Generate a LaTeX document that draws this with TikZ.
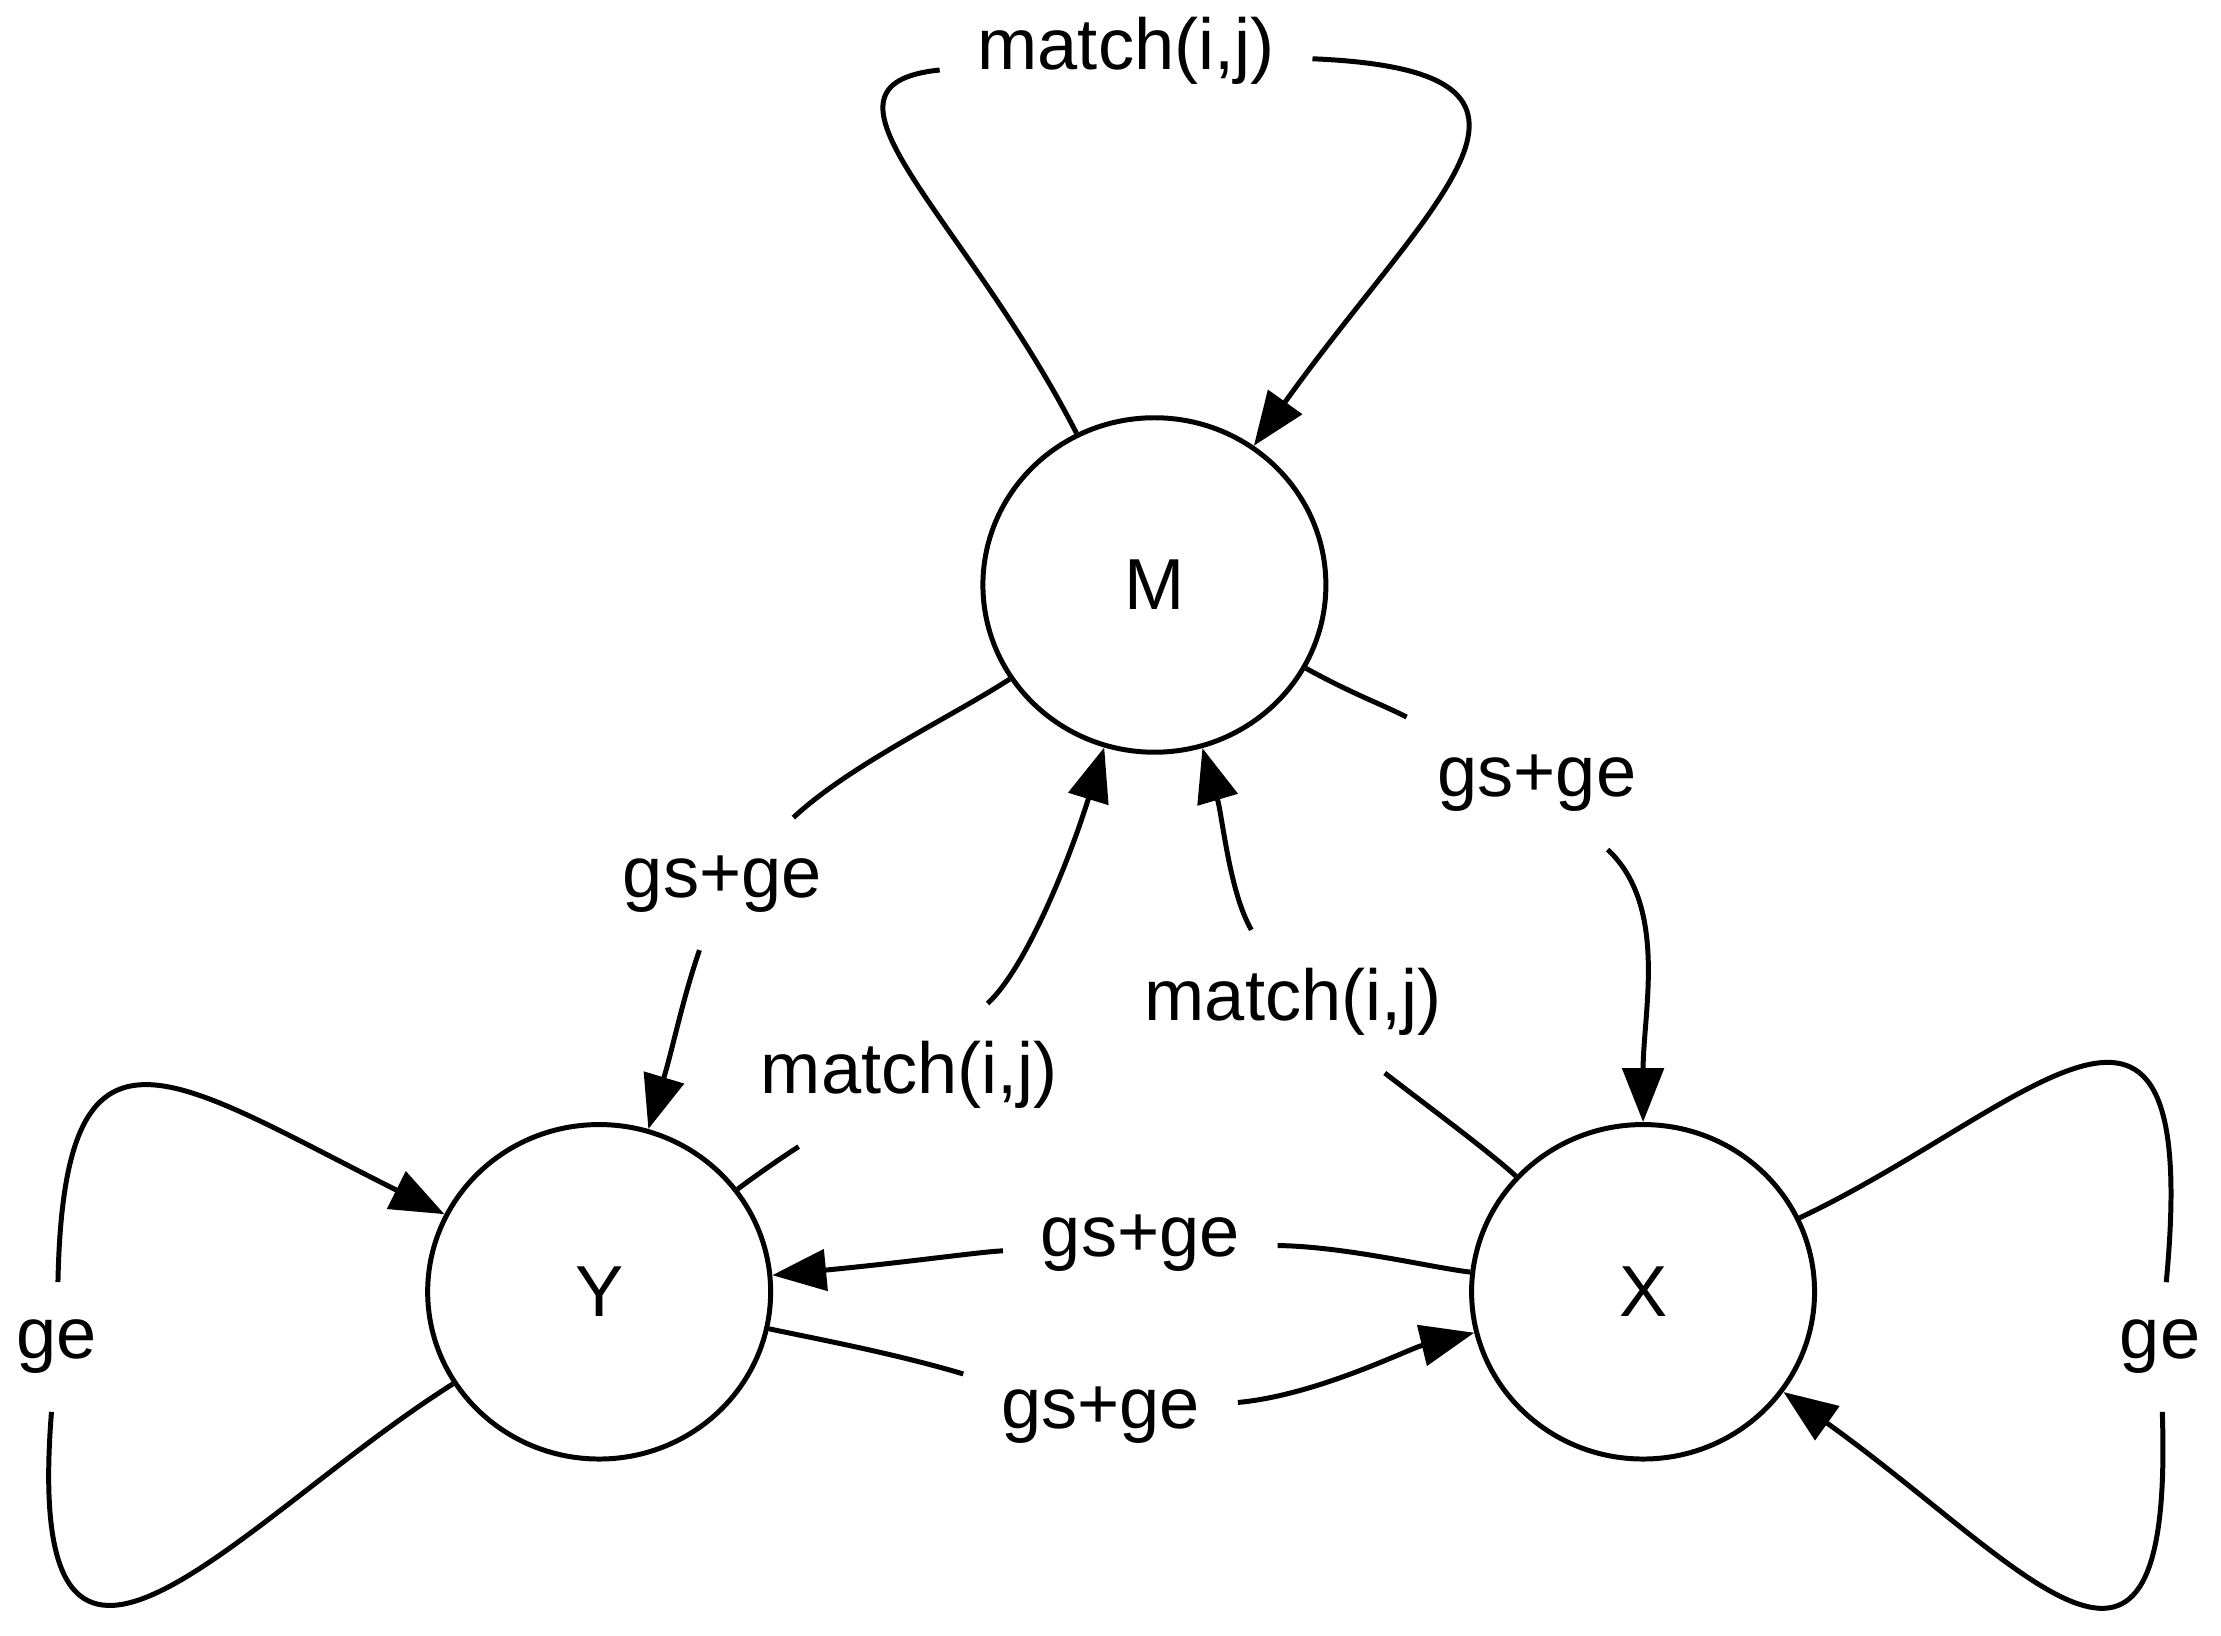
\documentclass[tikz,border=0pt]{standalone}
\usepackage{fontspec}
\setmainfont{Liberation Sans}
\usetikzlibrary{arrows.meta,shapes.geometric}

\begin{document}
\begin{tikzpicture}[x=0.01cm,y=-0.01cm,
    line width=1pt,
    >={Triangle[length=0.38cm,width=0.29cm]},
    every node/.style={font=\fontsize{14.5}{17}\selectfont},
    state/.style={draw,ellipse,minimum width=2.42cm,minimum height=2.36cm,inner sep=0pt},
    lbl/.style={inner sep=0.25cm}]
    \useasboundingbox (0,0) rectangle (1568,1155);
    % states
    \node[state] (M) at (815,413) {M};
    \node[state] (Y) at (423,912) {Y};
    \node[state] (X) at (1160,912) {X};
    % edge labels
    \node[lbl] (mm) at (795,36) {match(i,j)};
    \node[lbl] (mx) at (1085,553) {gs+ge};
    \node[lbl] (my) at (510,624) {gs+ge};
    \node[lbl] (ym) at (642,759) {match(i,j)};
    \node[lbl] (xm) at (913,707) {match(i,j)};
    \node[lbl] (xy) at (805,878) {gs+ge};
    \node[lbl] (yx) at (777,999) {gs+ge};
    \node[lbl] (yy) at (40,951) {ge};
    \node[lbl] (xx) at (1525,951) {ge};
    % transitions
    \draw[->] (M) .. controls (680,150) and (560,60) .. (mm)
        .. controls (1130,50) and (1010,140) .. (M);
    \draw[->] (M) .. controls (955,490) and (975,497) .. (mx)
        .. controls (1178,640) and (1160,715) .. (X);
    \draw[->] (M) .. controls (672,506) and (600,540) .. (my)
        .. controls (482,705) and (475,740) .. (Y);
    \draw[->] (Y) .. controls (543,823) and (560,812) .. (ym)
        .. controls (725,683) and (756,604) .. (M);
    \draw[->] (X) .. controls (1049,811) and (1000,775) .. (xm)
        .. controls (868,630) and (863,576) .. (M);
    \draw[->] (X) .. controls (1011,895) and (950,880) .. (xy)
        .. controls (690,884) and (642,891) .. (Y);
    \draw[->] (Y) .. controls (570,944) and (630,955) .. (yx)
        .. controls (930,985) and (995,952) .. (X);
    \draw[->] (Y) .. controls (169,1072) and (15,1265) .. (yy)
        .. controls (45,700) and (120,760) .. (Y);
    \draw[->] (X) .. controls (1431,784) and (1555,635) .. (xx)
        .. controls (1535,1245) and (1429,1104) .. (X);
\end{tikzpicture}
\end{document}
